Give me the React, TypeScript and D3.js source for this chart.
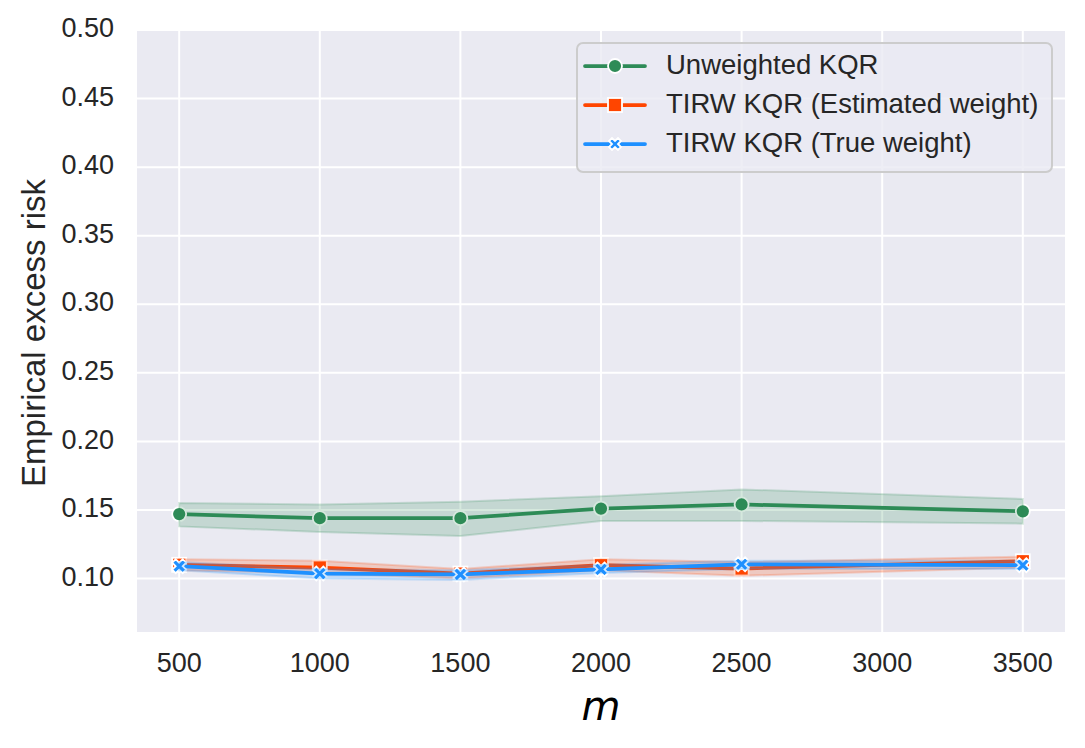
import * as d3 from "d3";

const mValues = [500, 1000, 1500, 2000, 2500, 3500];

const unweighted = [0.147, 0.144, 0.144, 0.151, 0.154, 0.149];
const unweightedLo = [0.138, 0.134, 0.131, 0.142, 0.142, 0.14];
const unweightedHi = [0.155, 0.154, 0.156, 0.16, 0.165, 0.158];

const estimated = [0.11, 0.108, 0.1036, 0.1097, 0.1073, 0.1126];
const estimatedLo = [0.106, 0.104, 0.1, 0.106, 0.102, 0.108];
const estimatedHi = [0.114, 0.113, 0.107, 0.114, 0.112, 0.116];

const trueWeight = [0.109, 0.1036, 0.103, 0.1066, 0.1104, 0.1097];
const trueWeightLo = [0.106, 0.1, 0.099, 0.104, 0.107, 0.107];
const trueWeightHi = [0.112, 0.107, 0.106, 0.11, 0.113, 0.113];

const xTicks = [500, 1000, 1500, 2000, 2500, 3000, 3500];
const yTicks = [0.1, 0.15, 0.2, 0.25, 0.3, 0.35, 0.4, 0.45, 0.5];

const seriesNames = [
  "Unweighted KQR",
  "TIRW KQR (Estimated weight)",
  "TIRW KQR (True weight)",
];

const W = 1085;
const H = 748;
const margin = { top: 30, right: 20, bottom: 116, left: 137 };
const FONT = "'Liberation Sans', Arial, sans-serif";
const TEXT = "#262626";

type Series = {
  name: string;
  color: string;
  marker: "circle" | "square" | "x";
  values: number[];
  lo: number[];
  hi: number[];
};

const series: Series[] = [
  { name: seriesNames[0], color: "#2E8B57", marker: "circle", values: unweighted, lo: unweightedLo, hi: unweightedHi },
  { name: seriesNames[1], color: "#FF4500", marker: "square", values: estimated, lo: estimatedLo, hi: estimatedHi },
  { name: seriesNames[2], color: "#1E90FF", marker: "x", values: trueWeight, lo: trueWeightLo, hi: trueWeightHi },
];

// filled "X" marker, same shape as matplotlib's
const xPts: [number, number][] = [
  [0.25, 0], [0.5, 0.25], [0.25, 0.5], [0, 0.25], [-0.25, 0.5], [-0.5, 0.25],
  [-0.25, 0], [-0.5, -0.25], [-0.25, -0.5], [0, -0.25], [0.25, -0.5], [0.5, -0.25],
];

const Marker = ({ kind, x, y, color, s = 14 }: { kind: Series["marker"]; x: number; y: number; color: string; s?: number }) => {
  if (kind === "circle")
    return <circle cx={x} cy={y} r={s / 2} fill={color} stroke="#fff" strokeWidth={1.8} />;
  if (kind === "square")
    return <rect x={x - s / 2} y={y - s / 2} width={s} height={s} fill={color} stroke="#fff" strokeWidth={1.8} />;
  const d = "M" + xPts.map(([px, py]) => `${x + px * s},${y + py * s}`).join("L") + "Z";
  return <path d={d} fill={color} stroke="#fff" strokeWidth={1.8} />;
};

export default function App() {
  const innerW = W - margin.left - margin.right;
  const innerH = H - margin.top - margin.bottom;

  const x = d3.scaleLinear().domain([350, 3650]).range([0, innerW]);
  const y = d3.scaleLinear().domain([0.061, 0.5]).range([innerH, 0]);

  const line = d3
    .line<number>()
    .x((_, i) => x(mValues[i]))
    .y((d) => y(d));

  const band = (s: Series) =>
    d3
      .area<number>()
      .x((_, i) => x(mValues[i]))
      .y0((_, i) => y(s.lo[i]))
      .y1((_, i) => y(s.hi[i]))(s.values) ?? "";

  const lx = 577;
  const ly = 43;

  return (
    <svg
      width={W}
      height={H}
      style={{ position: "absolute", left: 0, top: 0, background: "#fff" }}
      fontFamily={FONT}
    >
      <g transform={`translate(${margin.left},${margin.top})`}>
        <rect width={innerW} height={innerH} fill="#EAEAF2" />
        {xTicks.map((t) => (
          <line key={"gx" + t} x1={x(t)} x2={x(t)} y1={0} y2={innerH} stroke="#fff" strokeWidth={2} />
        ))}
        {yTicks.map((t) => (
          <line key={"gy" + t} x1={0} x2={innerW} y1={y(t)} y2={y(t)} stroke="#fff" strokeWidth={2} />
        ))}

        {series.map((s) => (
          <g key={s.name}>
            <path d={line(s.values) ?? ""} fill="none" stroke={s.color} strokeWidth={3.75} strokeLinejoin="round" strokeLinecap="round" />
            {s.values.map((v, i) => (
              <Marker key={i} kind={s.marker} x={x(mValues[i])} y={y(v)} color={s.color} />
            ))}
            <path d={band(s)} fill={s.color} fillOpacity={0.2} stroke={s.color} strokeOpacity={0.2} strokeWidth={2} />
          </g>
        ))}

        {xTicks.map((t) => (
          <text key={"tx" + t} x={x(t)} y={innerH + 33} textAnchor="middle" dominantBaseline="middle" fontSize={27} fill={TEXT}>
            {t}
          </text>
        ))}
        {yTicks.map((t) => (
          <text key={"ty" + t} x={-23} y={y(t)} textAnchor="end" dominantBaseline="middle" fontSize={27} fill={TEXT}>
            {t.toFixed(2)}
          </text>
        ))}
      </g>

      <text
        transform={`translate(45,${margin.top + innerH / 2 + 2}) rotate(-90)`}
        textAnchor="middle"
        fontSize={33}
        fill={TEXT}
      >
        Empirical excess risk
      </text>
      <text
        x={margin.left + x(2000)}
        y={720}
        textAnchor="middle"
        fontSize={40}
        fontStyle="italic"
        fontFamily="'DejaVu Sans', sans-serif"
        fill="#000"
      >
        m
      </text>

      <g>
        <rect x={lx} y={ly} width={475} height={129} rx={6} fill="#EAEAF2" fillOpacity={0.8} stroke="#CCCCCC" strokeWidth={2} />
        {series.map((s, i) => {
          const cy = 66 + i * 39;
          return (
            <g key={"lg" + s.name}>
              <line x1={585} x2={645} y1={cy} y2={cy} stroke={s.color} strokeWidth={3.75} strokeLinecap="round" />
              <Marker kind={s.marker} x={615} y={cy} color={s.color} s={s.marker === "x" ? 12 : 14} />
              <text x={666} y={cy + 1} dominantBaseline="middle" fontSize={27.5} fill={TEXT}>
                {s.name}
              </text>
            </g>
          );
        })}
      </g>
    </svg>
  );
}
